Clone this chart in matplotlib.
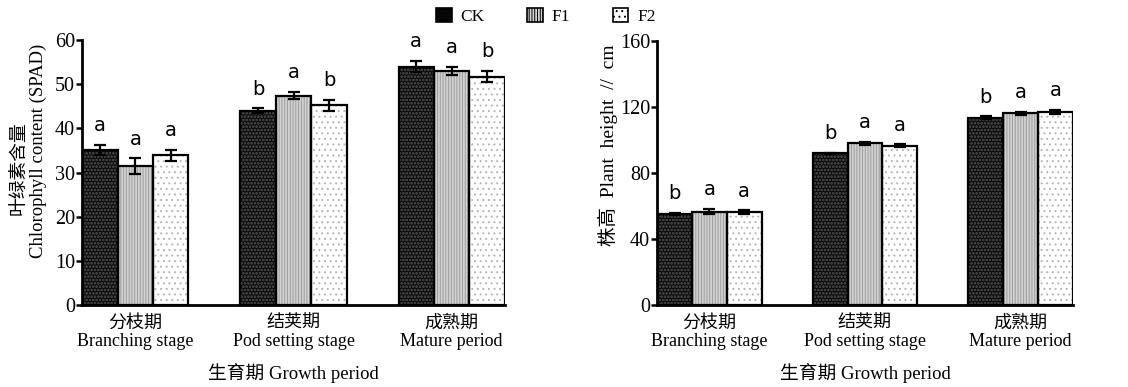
import numpy as np
import matplotlib.pyplot as plt
from matplotlib.patches import Patch

# ---------------- data ----------------
stages_cn = ["分枝期", "结荚期", "成熟期"]
stages_en = ["Branching stage", "Pod setting stage", "Mature period"]
treatments = ["CK", "F1", "F2"]

# chlorophyll content (SPAD)
spad_ck = [35.1, 44.0, 54.0]
spad_f1 = [31.4, 47.4, 53.0]
spad_f2 = [33.9, 45.2, 51.7]
spad_ck_err = [1.2, 0.5, 1.2]
spad_f1_err = [1.8, 0.8, 1.0]
spad_f2_err = [1.3, 1.2, 1.3]
spad_ck_sig = ["a", "b", "a"]
spad_f1_sig = ["a", "a", "a"]
spad_f2_sig = ["a", "b", "b"]

# plant height (cm)
height_ck = [55.2, 91.9, 113.6]
height_f1 = [56.6, 97.9, 116.3]
height_f2 = [56.4, 96.4, 116.8]
height_ck_err = [0.8, 0.4, 0.8]
height_f1_err = [1.6, 0.8, 0.9]
height_f2_err = [1.0, 0.9, 1.3]
height_ck_sig = ["b", "b", "b"]
height_f1_sig = ["a", "a", "a"]
height_f2_sig = ["a", "a", "a"]

# ---------------- style ----------------
serif = ["Liberation Serif", "Noto Sans CJK SC"]
plt.rcParams["font.family"] = serif
plt.rcParams["hatch.linewidth"] = 0.7

styles = [
    dict(facecolor="#0c0c0c", hatch="ooooo", hcolor="#3e3e3e"),
    dict(facecolor="#d2d2d2", hatch="||||||", hcolor="#9c9c9c"),
    dict(facecolor="#ffffff", hatch="...", hcolor="#b4b4b4"),
]

fig = plt.figure(figsize=(11.28, 3.87), dpi=100)
ax1 = fig.add_axes([0.0727, 0.2119, 0.3750, 0.6847])
ax2 = fig.add_axes([0.5824, 0.2119, 0.3688, 0.6822])

width = 0.224
x = np.arange(len(stages_cn))


def draw(ax, vals, errs, sigs, ymax, step):
    for i in range(3):
        pos = x + (i - 1) * width
        st = styles[i]
        # fill + hatch, then black outline on top
        ax.bar(pos, vals[i], width, color=st["facecolor"], hatch=st["hatch"],
               edgecolor=st["hcolor"], linewidth=0, zorder=2)
        ax.bar(pos, vals[i], width, fill=False, edgecolor="black",
               linewidth=1.6, zorder=3)
        ax.errorbar(pos, vals[i], yerr=errs[i], fmt="none", ecolor="black",
                    elinewidth=1.6, capsize=4, capthick=1.6, zorder=4)
        for p, v, e, s in zip(pos, vals[i], errs[i], sigs[i]):
            ax.annotate(s, (p, v + e), xytext=(0, 7), textcoords="offset points",
                        ha="center", va="bottom", fontsize=14,
                        family="DejaVu Sans")
    ax.set_xlim(-0.337, 2.337)
    ax.set_ylim(0, ymax)
    ax.set_yticks(np.arange(0, ymax + 1, step))
    ax.set_xticks(x)
    ax.set_xticklabels([c + "\n" + e for c, e in zip(stages_cn, stages_en)],
                       fontsize=13, linespacing=1.1)
    ax.tick_params(axis="x", length=0, pad=7)
    ax.tick_params(axis="y", direction="out", length=4, width=1.8,
                   labelsize=14.5, pad=1)
    for sp in ["top", "right"]:
        ax.spines[sp].set_visible(False)
    for sp in ["left", "bottom"]:
        ax.spines[sp].set_linewidth(2)
    ax.set_xlabel("生育期 Growth period", fontsize=13.5, labelpad=9)


draw(ax1, [spad_ck, spad_f1, spad_f2], [spad_ck_err, spad_f1_err, spad_f2_err],
     [spad_ck_sig, spad_f1_sig, spad_f2_sig], 60, 10)
draw(ax2, [height_ck, height_f1, height_f2],
     [height_ck_err, height_f1_err, height_f2_err],
     [height_ck_sig, height_f1_sig, height_f2_sig], 160, 40)

# y labels
fig.text(19 / 1128, 1 - 168 / 387, "叶绿素含量", rotation=90, ha="center",
         va="center", fontsize=13.5)
fig.text(38 / 1128, 1 - 151 / 387, "Chlorophyll content (SPAD)", rotation=90,
         ha="center", va="center", fontsize=13.5)
fig.text(608 / 1128, 1 - 145 / 387, "株高  Plant  height  //  cm", rotation=90,
         ha="center", va="center", fontsize=14)

# legend
handles = [Patch(facecolor=s["facecolor"], hatch=s["hatch"], edgecolor="black",
                 linewidth=1.2) for s in styles]
fig.legend(handles, treatments, loc="center", bbox_to_anchor=(0.484, 0.958),
           ncol=3, frameon=False, fontsize=12.5, handlelength=0.9,
           handleheight=0.9, columnspacing=2.45, handletextpad=0.5)

fig.savefig("out.png", dpi=100)
